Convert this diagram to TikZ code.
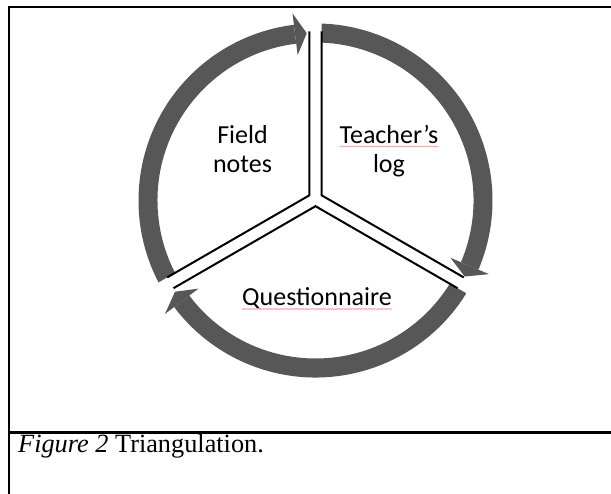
\documentclass[tikz,border=0pt]{standalone}
\usepackage{fontspec}
\setmainfont{Liberation Serif}
\newfontfamily\calibri{Carlito}
\usetikzlibrary{calc,decorations.pathmorphing}
\definecolor{arrowgrey}{HTML}{575757}
\definecolor{spellred}{HTML}{F2A0A0}
\begin{document}
\begin{tikzpicture}[x=1pt,y=1pt,
  frame/.style={line width=2.2pt, black, line cap=butt},
  sepline/.style={line width=2pt, black, line cap=butt, line join=miter},
  greyarrow/.style={fill=arrowgrey},
  seglabel/.style={font=\calibri\fontsize{26}{29}\selectfont, inner sep=0pt, anchor=base},
  caption/.style={font=\fontsize{26.3}{30}\selectfont, inner sep=0pt, anchor=base west},
  spell/.style={spellred, line width=0.6pt, decorate, decoration={zigzag, amplitude=0.5pt, segment length=1.8pt}}]
\useasboundingbox (0,0) rectangle (611,494);
% frame
\coordinate (fTL) at (9,487);
\coordinate (fTR) at (611,487);
\coordinate (fBL) at (9,0);
\coordinate (fML) at (9,61.5);
\coordinate (fMR) at (611,61.5);
\draw[frame] (fTR) -- (fTL) -- (fBL);
\draw[frame] (fML) -- (fMR);
% cycle
\coordinate (C) at (315.5,293.5);
\coordinate (P) at (315.5,295);
\foreach \t in {150,30,270}{
  \pgfmathsetmacro{\a}{\t-60}
  \pgfmathsetmacro{\b}{\t+60}
  \pgfmathsetmacro{\ab}{\t-60+7}
  \pgfmathsetmacro{\at}{\t-60+3}
  \pgfmathsetmacro{\bb}{\t+60+10}
  \coordinate (A) at ($(P)+(\t:7.2)$);
  \begin{scope}
    \clip (A) -- ($(A)+(\a:300)$) -- ($(A)+(\t:300)$) -- ($(A)+(\b:300)$) -- cycle;
    \fill[greyarrow] ($(C)+(\ab:158)$) arc[start angle=\ab, end angle=\bb, radius=158]
      -- ($(C)+(\bb:177)$) arc[start angle=\bb, end angle=\ab, radius=177] -- cycle;
    \fill[greyarrow] ($(C)+(\at:167.5)$) -- ($(C)+(\ab:146.5)$) -- ($(C)+(\ab:188.5)$) -- cycle;
  \end{scope}
  \draw[sepline] ($(A)+(\a:164)$) -- (A) -- ($(A)+(\b:164)$);
}
% labels
\node[seglabel] (fieldA) at (242.5,350) {Field};
\node[seglabel] (fieldB) at (242.5,321) {notes};
\node[seglabel] (teacherA) at (389,350) {Teacher’s};
\node[seglabel] (teacherB) at (389,321) {log};
\node[seglabel] (quest) at (317,188) {Questionnaire};
\draw[spell] ([yshift=-2.5pt]teacherA.base west) -- ([yshift=-2.5pt]teacherA.base east);
\draw[spell] ([yshift=-3pt]quest.base west) -- ([yshift=-3pt]quest.base east);
% caption
\node[caption] (cap) at (18,41) {\textit{Figure 2} Triangulation.};
\end{tikzpicture}
\end{document}
